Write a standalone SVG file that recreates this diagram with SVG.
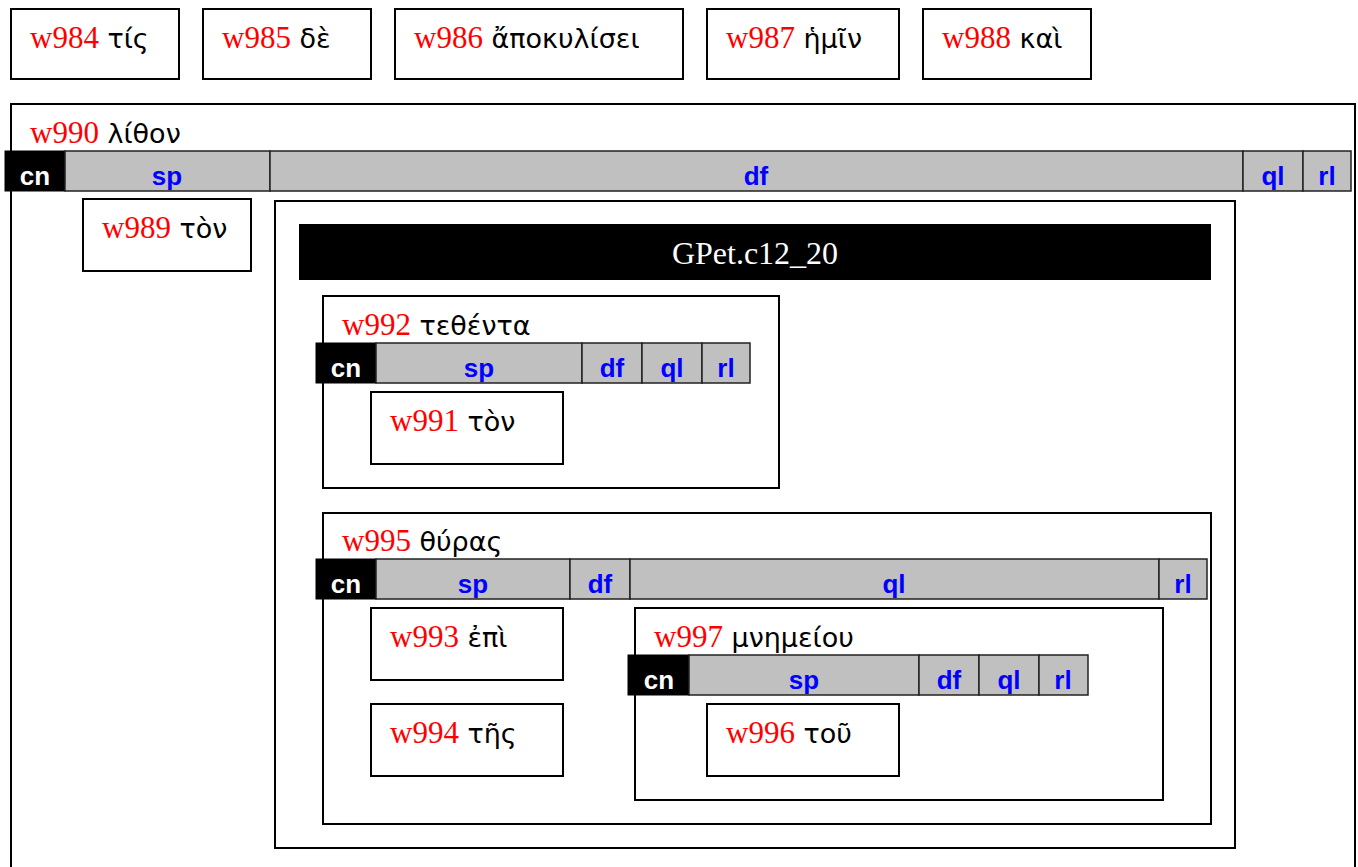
<svg xmlns="http://www.w3.org/2000/svg" width="1358" height="867" viewBox="0 0 1358 867">
<style>
.box{fill:#fff;stroke:#000;stroke-width:2}
.seg{fill:#c0c0c0;stroke:#222;stroke-width:1.5}
.cn{fill:#000;stroke:#000;stroke-width:1}
.lbl{font-family:"Liberation Sans",Arial,sans-serif;font-weight:bold;font-size:26px;fill:#0000ff;text-anchor:middle}
.cnl{font-family:"Liberation Sans",Arial,sans-serif;font-weight:bold;font-size:26px;fill:#fff;text-anchor:middle}
.w{font-family:"Liberation Serif","Times New Roman",serif;font-size:31px;fill:#ff0000}
.g{font-family:"DejaVu Sans","Noto Sans",sans-serif;font-size:27px;fill:#000}
.title{font-family:"Liberation Serif","Times New Roman",serif;font-size:32px;fill:#fff;text-anchor:middle}
</style>
<g id="w984"><rect class="box" x="11" y="9" width="168" height="70"/><text x="30" y="48"><tspan class="w">w984</tspan><tspan class="g"> τίς</tspan></text></g>
<g id="w985"><rect class="box" x="203" y="9" width="168" height="70"/><text x="222" y="48"><tspan class="w">w985</tspan><tspan class="g"> δὲ</tspan></text></g>
<g id="w986"><rect class="box" x="395" y="9" width="288" height="70"/><text x="414" y="48"><tspan class="w">w986</tspan><tspan class="g"> ἄποκυλίσει</tspan></text></g>
<g id="w987"><rect class="box" x="707" y="9" width="192" height="70"/><text x="726" y="48"><tspan class="w">w987</tspan><tspan class="g"> ἡμῖν</tspan></text></g>
<g id="w988"><rect class="box" x="923" y="9" width="168" height="70"/><text x="942" y="48"><tspan class="w">w988</tspan><tspan class="g"> καὶ</tspan></text></g>

<g id="w990">
<rect class="box" x="11" y="104" width="1344" height="780"/>
<text x="30" y="143"><tspan class="w">w990</tspan><tspan class="g"> λίθον</tspan></text>
<rect class="cn" x="5" y="151" width="60" height="40"/><text class="cnl" x="35" y="185">cn</text>
<rect class="seg" x="65" y="151" width="205" height="40"/><text class="lbl" x="167" y="185">sp</text>
<rect class="seg" x="270" y="151" width="973" height="40"/><text class="lbl" x="756" y="185">df</text>
<rect class="seg" x="1243" y="151" width="60" height="40"/><text class="lbl" x="1273" y="185">ql</text>
<rect class="seg" x="1303" y="151" width="48" height="40"/><text class="lbl" x="1327" y="185">rl</text>
</g>

<g id="w989"><rect class="box" x="83" y="199" width="168" height="72"/><text x="102" y="238"><tspan class="w">w989</tspan><tspan class="g"> τὸν</tspan></text></g>

<g id="GPet.c12_20">
<rect class="box" x="275" y="201" width="960" height="647"/>
<rect x="299" y="224" width="912" height="56" fill="#000"/>
<text class="title" x="755" y="264">GPet.c12_20</text>
</g>

<g id="w992">
<rect class="box" x="323" y="296" width="456" height="192"/>
<text x="342" y="335"><tspan class="w">w992</tspan><tspan class="g"> τεθέντα</tspan></text>
<rect class="cn" x="316" y="343" width="60" height="40"/><text class="cnl" x="346" y="377">cn</text>
<rect class="seg" x="376" y="343" width="206" height="40"/><text class="lbl" x="479" y="377">sp</text>
<rect class="seg" x="582" y="343" width="60" height="40"/><text class="lbl" x="612" y="377">df</text>
<rect class="seg" x="642" y="343" width="60" height="40"/><text class="lbl" x="672" y="377">ql</text>
<rect class="seg" x="702" y="343" width="48" height="40"/><text class="lbl" x="726" y="377">rl</text>
</g>
<g id="w991"><rect class="box" x="371" y="392" width="192" height="72"/><text x="390" y="431"><tspan class="w">w991</tspan><tspan class="g"> τὸν</tspan></text></g>

<g id="w995">
<rect class="box" x="323" y="513" width="888" height="311"/>
<text x="342" y="551"><tspan class="w">w995</tspan><tspan class="g"> θύρας</tspan></text>
<rect class="cn" x="316" y="559" width="60" height="40"/><text class="cnl" x="346" y="593">cn</text>
<rect class="seg" x="376" y="559" width="194" height="40"/><text class="lbl" x="473" y="593">sp</text>
<rect class="seg" x="570" y="559" width="60" height="40"/><text class="lbl" x="600" y="593">df</text>
<rect class="seg" x="630" y="559" width="529" height="40"/><text class="lbl" x="894" y="593">ql</text>
<rect class="seg" x="1159" y="559" width="48" height="40"/><text class="lbl" x="1183" y="593">rl</text>
</g>
<g id="w993"><rect class="box" x="371" y="608" width="192" height="72"/><text x="390" y="647"><tspan class="w">w993</tspan><tspan class="g"> ἐπὶ</tspan></text></g>
<g id="w994"><rect class="box" x="371" y="704" width="192" height="72"/><text x="390" y="743"><tspan class="w">w994</tspan><tspan class="g"> τῆς</tspan></text></g>

<g id="w997">
<rect class="box" x="635" y="608" width="528" height="192"/>
<text x="654" y="647"><tspan class="w">w997</tspan><tspan class="g"> μνημείου</tspan></text>
<rect class="cn" x="628" y="655" width="61" height="40"/><text class="cnl" x="659" y="689">cn</text>
<rect class="seg" x="689" y="655" width="230" height="40"/><text class="lbl" x="804" y="689">sp</text>
<rect class="seg" x="919" y="655" width="60" height="40"/><text class="lbl" x="949" y="689">df</text>
<rect class="seg" x="979" y="655" width="60" height="40"/><text class="lbl" x="1009" y="689">ql</text>
<rect class="seg" x="1039" y="655" width="49" height="40"/><text class="lbl" x="1063" y="689">rl</text>
</g>
<g id="w996"><rect class="box" x="707" y="704" width="192" height="72"/><text x="726" y="743"><tspan class="w">w996</tspan><tspan class="g"> τοῦ</tspan></text></g>
<g id="connectors"></g>
</svg>
